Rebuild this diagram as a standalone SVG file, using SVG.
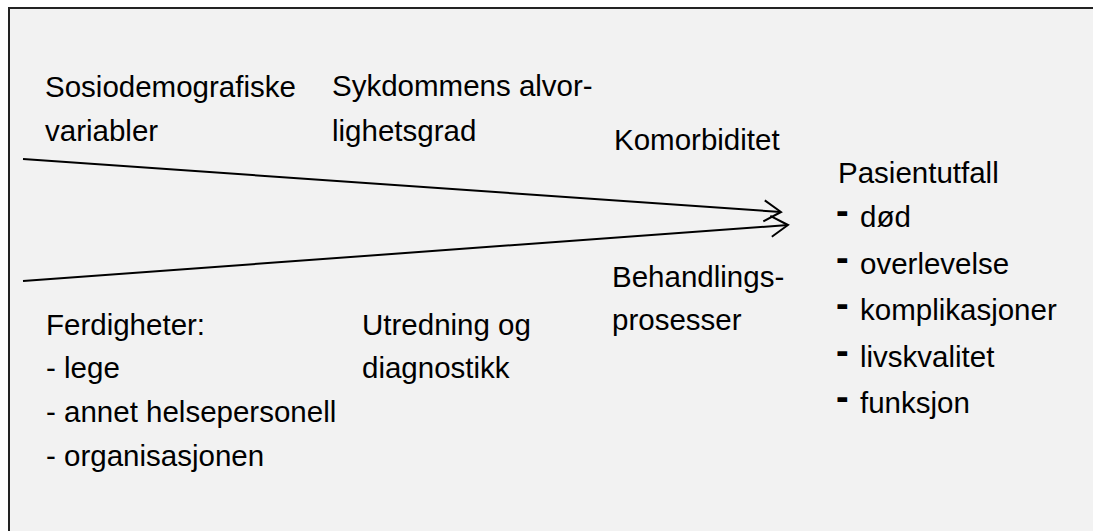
<svg xmlns="http://www.w3.org/2000/svg" width="1093" height="531" viewBox="0 0 1093 531">
<defs>
<style>
.t{font-family:"Liberation Sans",Arial,sans-serif;font-size:29.5px;fill:#000;}
.d{font-family:"Liberation Sans",Arial,sans-serif;font-size:38px;font-weight:bold;fill:#000;}
.c{stroke:#000;stroke-width:2;fill:none;}
</style>
<marker id="ah" markerUnits="userSpaceOnUse" viewBox="-20 -13 22 26" refX="0" refY="0" markerWidth="22" markerHeight="26" orient="auto">
<path d="M-17,-10.5 L0,0 L-17,10.5" fill="none" stroke="#000" stroke-width="2"/>
</marker>
</defs>
<rect x="0" y="0" width="1093" height="531" fill="#fff"/>
<rect id="frame" x="9" y="8" width="1100" height="540" fill="#f2f2f2" stroke="#222" stroke-width="2"/>
<g id="connectors">
<line class="c" x1="23" y1="159" x2="781" y2="212" marker-end="url(#ah)"/>
<line class="c" x1="23" y1="281" x2="788" y2="225" marker-end="url(#ah)"/>
</g>
<g id="sosiodemografiske"><text class="t" x="45" y="97">Sosiodemografiske</text><text class="t" x="45" y="141">variabler</text></g>
<g id="sykdommens"><text class="t" x="332" y="96">Sykdommens alvor-</text><text class="t" x="332" y="141">lighetsgrad</text></g>
<g id="komorbiditet"><text class="t" x="614" y="150">Komorbiditet</text></g>
<g id="ferdigheter"><text class="t" x="46" y="335">Ferdigheter:</text><text class="t" x="46" y="378">- lege</text><text class="t" x="46" y="422">- annet helsepersonell</text><text class="t" x="46" y="466">- organisasjonen</text></g>
<g id="utredning"><text class="t" x="362" y="335">Utredning og</text><text class="t" x="362" y="378">diagnostikk</text></g>
<g id="behandling"><text class="t" x="612" y="287">Behandlings-</text><text class="t" x="612" y="330">prosesser</text></g>
<g id="pasientutfall">
<text class="t" x="838" y="183">Pasientutfall</text>
<text class="d" x="836" y="224">-</text><text class="t" x="860" y="227">død</text>
<text class="d" x="836" y="271">-</text><text class="t" x="860" y="274">overlevelse</text>
<text class="d" x="836" y="317">-</text><text class="t" x="860" y="320">komplikasjoner</text>
<text class="d" x="836" y="364">-</text><text class="t" x="860" y="367">livskvalitet</text>
<text class="d" x="836" y="410">-</text><text class="t" x="860" y="413">funksjon</text>
</g>
</svg>
